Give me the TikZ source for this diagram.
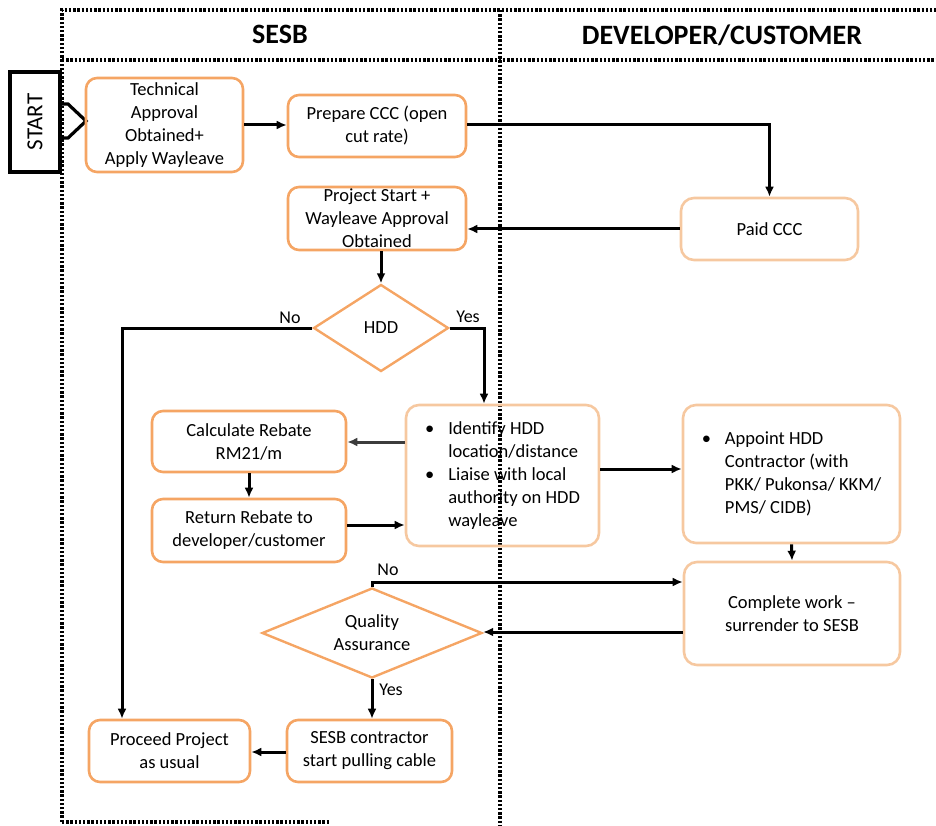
\documentclass[tikz,border=0pt]{standalone}
\usepackage{fontspec}
\setmainfont{Carlito}
\usetikzlibrary{shapes.geometric,arrows.meta}
\definecolor{orA}{RGB}{245,165,100}
\definecolor{orB}{RGB}{246,200,160}
\definecolor{dgray}{RGB}{60,60,60}
\tikzset{
  flowbox/.style={draw=orA, line width=2.6pt, rounded corners=11pt, align=center,
    font=\fontsize{18.5}{23}\selectfont, inner sep=0pt},
  devbox/.style={draw=orB, line width=2.6pt, rounded corners=13pt, align=center,
    font=\fontsize{18.5}{23}\selectfont, inner sep=0pt},
  decision/.style={diamond, draw=orA, line width=2.4pt, align=center, aspect=1.6,
    font=\fontsize{18.5}{23}\selectfont, inner sep=0pt},
  lane/.style={line width=3.4pt, dash pattern=on 2.4pt off 1.8pt},
  conn/.style={line width=3pt, -{Latex[length=10pt,width=9pt]}},
  lbl/.style={font=\fontsize{18}{20}\selectfont, inner sep=1pt},
  head/.style={font=\fontsize{28}{30}\selectfont\bfseries}
}
\begin{document}
\begin{tikzpicture}[x=1pt,y=-1pt]
\useasboundingbox (0,0) rectangle (936,826);
% lanes
\draw[lane] (62,822) -- (62,10) -- (936,10);
\draw[lane] (62,60) -- (936,60);
\draw[lane] (500,10) -- (500,826);
\draw[lane] (62,822) -- (330,822);
\node[head] (hsesb) at (280,34) {SESB};
\node[head] (hdev) at (722,35) {DEVELOPER/CUSTOMER};
% start
\node[draw, line width=3.2pt, minimum width=50pt, minimum height=100pt, inner sep=0pt,
  font=\fontsize{23}{25}\selectfont] (start) at (35,122) {\rotatebox{90}{START}};
\draw[line width=3.2pt, line join=miter] (60,104) -- (68,104) -- (86,121) -- (68,138) -- (60,138);
% SESB boxes
\node[flowbox, minimum width=157pt, minimum height=94pt] (tech) at (164.5,125)
  {Technical\\Approval\\Obtained+\\Apply Wayleave};
\node[flowbox, minimum width=178pt, minimum height=62pt] (prep) at (377,126)
  {Prepare CCC (open\\cut rate)};
\node[flowbox, minimum width=178pt, minimum height=63pt] (proj) at (377,218.5)
  {Project Start +\\Wayleave Approval\\Obtained};
\node[decision, minimum width=135pt, minimum height=87pt] (hdd) at (381,328) {HDD};
\node[flowbox, minimum width=194pt, minimum height=61pt] (calc) at (249,441.5)
  {Calculate Rebate\\RM21/m};
\node[flowbox, minimum width=194pt, minimum height=63pt] (ret) at (249,530.5)
  {Return Rebate to\\developer/customer};
\node[devbox, minimum width=193pt, minimum height=141pt, align=left] (ident) at (502.5,475.5)
  {\begin{tabular}{@{}l@{\hspace{14pt}}l@{}}
   \textbullet & Identify HDD\\
               & location/distance\\
   \textbullet & Liaise with local\\
               & authority on HDD\\
               & wayleave
   \end{tabular}};
\node[decision, minimum width=220pt, minimum height=90pt] (qa) at (372,633)
  {Quality\\Assurance};
\node[flowbox, minimum width=161pt, minimum height=62pt] (proc) at (169.5,751)
  {Proceed Project\\as usual};
\node[flowbox, minimum width=165pt, minimum height=62pt] (cont) at (369.5,751)
  {SESB contractor\\start pulling cable};
% developer boxes
\node[devbox, minimum width=177pt, minimum height=62pt] (paid) at (769.5,229) {Paid CCC};
\node[devbox, minimum width=217pt, minimum height=138pt, align=left] (appt) at (791.5,474)
  {\begin{tabular}{@{}l@{\hspace{14pt}}l@{}}
   \textbullet & Appoint HDD\\
               & Contractor (with\\
               & PKK/ Pukonsa/ KKM/\\
               & PMS/ CIDB)
   \end{tabular}};
\node[devbox, minimum width=216pt, minimum height=103pt] (comp) at (792,613.5)
  {Complete work –\\surrender to SESB};
% connectors
\draw[conn] (tech.east |- 0,125) -- (prep.west |- 0,125);
\draw[conn] (prep.east |- 0,125) -| (paid.north);
\draw[conn] (paid.west) -- (proj.east |- paid.west);
\draw[conn] (proj.south -| hdd.north) -- (hdd.north);
\draw[conn] (hdd.west) -| (proc.north -| 122,0);
\node[lbl] (lno1) at (290,318) {No};
\draw[conn] (hdd.east) -| (ident.north -| 484,0);
\node[lbl] (lyes1) at (468,317) {Yes};
\draw[conn, draw=dgray] (ident.west |- 0,442) -- (calc.east |- 0,442);
\draw[conn] (calc.south) -- (ret.north);
\draw[conn] (ret.east |- 0,525) -- (ident.west |- 0,525);
\draw[conn] (ident.east |- 0,469) -- (appt.west |- 0,469);
\draw[conn] (appt.south) -- (comp.north);
\coordinate (qtop) at (372,582);
\draw[conn] (qa.north) -- (qtop) -- (comp.west |- qtop);
\node[lbl] (lno2) at (388,570) {No};
\draw[conn] (comp.west |- 0,632) -- (qa.east |- 0,632);
\draw[conn] (qa.south) -- (cont.north -| qa.south);
\node[lbl] (lyes2) at (391,690) {Yes};
\draw[conn] (cont.west |- 0,752) -- (proc.east |- 0,752);
\end{tikzpicture}
\end{document}
